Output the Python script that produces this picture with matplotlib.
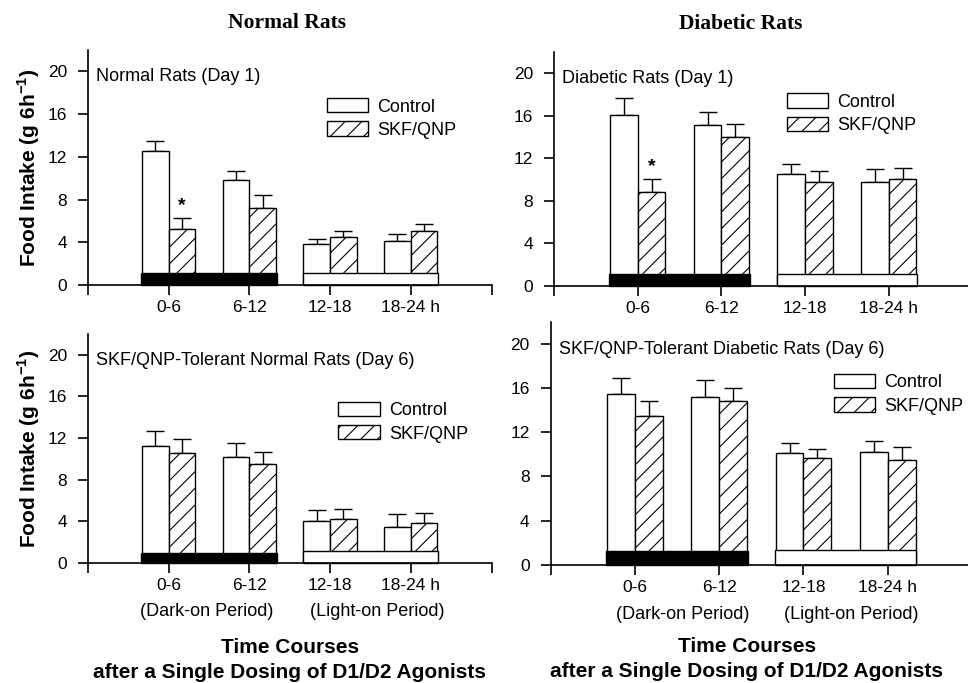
import numpy as np
import matplotlib.pyplot as plt
from matplotlib.patches import Rectangle

plt.rcParams['font.family'] = ['Liberation Sans', 'DejaVu Sans']
plt.rcParams['mathtext.fontset'] = 'custom'
plt.rcParams['mathtext.rm'] = 'Liberation Sans'
plt.rcParams['mathtext.bf'] = 'Liberation Sans:bold'
plt.rcParams['hatch.linewidth'] = 0.8

periods = ['0-6', '6-12', '12-18', '18-24 h']

# food intake (g / 6 h), mean and upper SEM
nd1_ctrl = [12.5, 9.8, 3.8, 4.1]
nd1_ctrl_err = [1.0, 0.9, 0.5, 0.7]
nd1_skf = [5.2, 7.2, 4.5, 5.1]
nd1_skf_err = [1.1, 1.2, 0.6, 0.6]

dd1_ctrl = [16.1, 15.1, 10.5, 9.8]
dd1_ctrl_err = [1.6, 1.3, 1.0, 1.2]
dd1_skf = [8.8, 14.0, 9.8, 10.1]
dd1_skf_err = [1.3, 1.2, 1.0, 1.0]

nd6_ctrl = [11.2, 10.2, 4.0, 3.5]
nd6_ctrl_err = [1.5, 1.3, 1.1, 1.2]
nd6_skf = [10.6, 9.5, 4.2, 3.8]
nd6_skf_err = [1.3, 1.2, 1.0, 1.0]

dd6_ctrl = [15.5, 15.2, 10.1, 10.2]
dd6_ctrl_err = [1.4, 1.5, 0.9, 1.0]
dd6_skf = [13.5, 14.8, 9.7, 9.5]
dd6_skf_err = [1.3, 1.2, 0.8, 1.2]

W, H = 968, 683
fig = plt.figure(figsize=(W / 100, H / 100), dpi=100)


def px_axes(left, right, bottom, top):
    return fig.add_axes([left / W, 1 - bottom / H, (right - left) / W, (bottom - top) / H])


panels = [
    # axes box in pixels, title, ctrl, ctrl err, skf, skf err, star, legend anchor, block heights
    dict(box=(88, 491.5, 285, 50), title='Normal Rats (Day 1)',
         c=nd1_ctrl, ce=nd1_ctrl_err, s=nd1_skf, se=nd1_skf_err, star=True,
         leg=(2.96, 17.5), blk=(1.1, 1.1)),
    dict(box=(554, 972.5, 286, 52), title='Diabetic Rats (Day 1)',
         c=dd1_ctrl, ce=dd1_ctrl_err, s=dd1_skf, se=dd1_skf_err, star=True,
         leg=(2.78, 18.1), blk=(1.15, 1.15)),
    dict(box=(88, 491.5, 563, 334), title='SKF/QNP-Tolerant Normal Rats (Day 6)',
         c=nd6_ctrl, ce=nd6_ctrl_err, s=nd6_skf, se=nd6_skf_err, star=False,
         leg=(3.1, 15.5), blk=(1.0, 1.2)),
    dict(box=(550.7, 972, 564.7, 322), title='SKF/QNP-Tolerant Diabetic Rats (Day 6)',
         c=dd6_ctrl, ce=dd6_ctrl_err, s=dd6_skf, se=dd6_skf_err, star=False,
         leg=(3.36, 17.3), blk=(1.25, 1.35)),
]

x = np.arange(1, 5)
w = 0.33
axes = []
for i, p in enumerate(panels):
    ax = px_axes(*p['box'])
    axes.append(ax)
    ax.bar(x - w / 2, p['c'], w, color='white', edgecolor='black', lw=1,
           label='Control', zorder=2)
    ax.bar(x + w / 2, p['s'], w, color='white', edgecolor='black', lw=1,
           hatch='//', label='SKF/QNP', zorder=2)
    ax.errorbar(x - w / 2, p['c'], yerr=[np.zeros(4), p['ce']], fmt='none',
                ecolor='black', elinewidth=1, capsize=6.5, capthick=1, zorder=1)
    ax.errorbar(x + w / 2, p['s'], yerr=[np.zeros(4), p['se']], fmt='none',
                ecolor='black', elinewidth=1, capsize=6.5, capthick=1, zorder=1)
    if p['star']:
        ax.text(1 + w / 2, p['s'][0] + p['se'][0] + 0.3, '*', ha='center',
                va='bottom', fontsize=14, fontweight='bold')
    # dark / light period blocks
    ax.add_patch(Rectangle((0.66, 0), 1.68, p['blk'][0], facecolor='black',
                           edgecolor='black', lw=1, zorder=3, clip_on=False))
    ax.add_patch(Rectangle((2.66, 0), 1.68, p['blk'][1], facecolor='white',
                           edgecolor='black', lw=1, zorder=3, clip_on=False))

    ax.set_xlim(0, 5)
    ax.set_ylim(0, 22)
    ax.set_xticks(range(6))
    ax.set_xticklabels([''] + periods + [''])
    ax.set_yticks(range(0, 21, 4))
    for s in ['top', 'right']:
        ax.spines[s].set_visible(False)
    for s in ['left', 'bottom']:
        ax.spines[s].set_linewidth(1.2)
        ax.spines[s].set_zorder(4)
    ax.tick_params(direction='out', length=7.2, width=1.2, labelsize=12.5)
    ax.tick_params(axis='x', pad=3.5)
    ax.tick_params(axis='y', pad=8)
    ax.text(0.02, 19.5, p['title'], fontsize=13, va='center', ha='left',
            transform=ax.get_yaxis_transform())
    ax.legend(loc='upper left', bbox_to_anchor=p['leg'],
              bbox_transform=ax.transData, frameon=False, fontsize=13,
              handlelength=2.3, handleheight=0.85, handletextpad=0.5,
              labelspacing=0.33, borderpad=0, borderaxespad=0)

ylab = 'Food Intake (g 6h$^{\\mathbf{-1}}$)'
for ax in (axes[0], axes[2]):
    ax.set_ylabel(ylab, fontsize=15, fontweight='bold')
    ax.yaxis.set_label_coords(-0.113, 0.5)

for ax, cx, cy in ((axes[2], 0.5, -0.3275), (axes[3], 0.465, -0.298)):
    ax.set_xlabel('Time Courses\nafter a Single Dosing of D1/D2 Agonists',
                  fontsize=15, fontweight='bold', linespacing=1.42)
    ax.xaxis.set_label_coords(cx, cy)
    ax.xaxis.label.set_va('top')

axes[2].text(1.47, -0.213, '(Dark-on Period)', ha='center', va='center',
             fontsize=13, transform=axes[2].get_xaxis_transform())
axes[2].text(3.59, -0.213, '(Light-on Period)', ha='center', va='center',
             fontsize=13, transform=axes[2].get_xaxis_transform())
axes[3].text(1.57, -0.207, '(Dark-on Period)', ha='center', va='center',
             fontsize=13, transform=axes[3].get_xaxis_transform())
axes[3].text(3.57, -0.207, '(Light-on Period)', ha='center', va='center',
             fontsize=13, transform=axes[3].get_xaxis_transform())

fig.text(287.5 / W, 1 - 23 / H, 'Normal Rats', ha='center', va='center',
         fontsize=15.5, fontweight='bold', family='Liberation Serif')
fig.text(740.7 / W, 1 - 24 / H, 'Diabetic Rats', ha='center', va='center',
         fontsize=15.5, fontweight='bold', family='Liberation Serif')

fig.savefig('out.png', dpi=100)
